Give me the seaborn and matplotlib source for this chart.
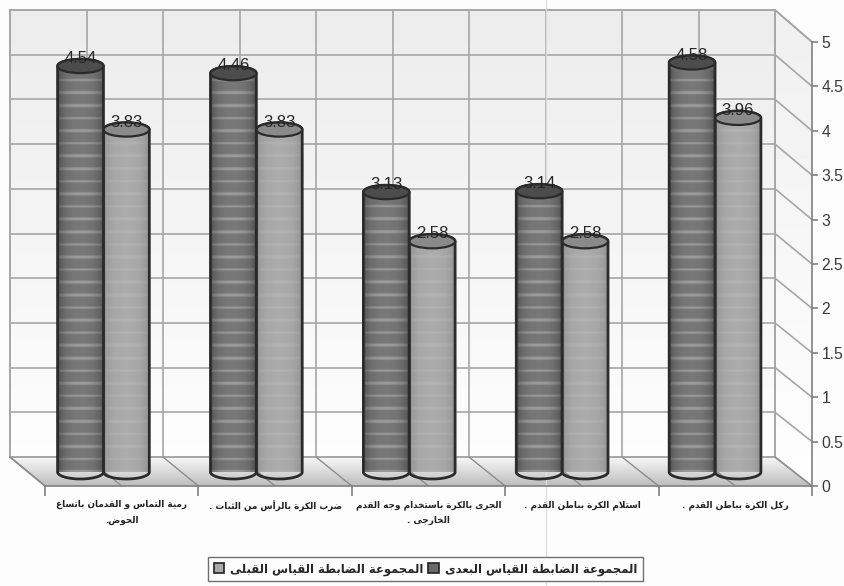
import numpy as np
import pandas as pd
import matplotlib
matplotlib.use('Agg')
import matplotlib.pyplot as plt
import seaborn as sns
from matplotlib.patches import Polygon, Ellipse

# Values
skills = ['رمية التماس و القدمان باتساع\nالحوض.',
          'ضرب الكرة بالرأس من الثبات .',
          'الجرى بالكرة باستخدام وجه القدم\nالخارجى .',
          'استلام الكرة بباطن القدم .',
          'ركل الكرة بباطن القدم .']
after_label = 'المجموعة الضابطة القياس البعدى'
before_label = 'المجموعة الضابطة القياس القبلى'
after_values = [4.54, 4.46, 3.13, 3.14, 4.58]
before_values = [3.83, 3.83, 2.58, 2.58, 3.96]
value_texts_after = ['4.54', '4.46', '3.13', '3.14', '4.58']
value_texts_before = ['3.83', '3.83', '2.58', '2.58', '3.96']
y_ticks = [0, 0.5, 1, 1.5, 2, 2.5, 3, 3.5, 4, 4.5, 5]
y_ticklabels = ['0', '0.5', '1', '1.5', '2', '2.5', '3', '3.5', '4', '4.5', '5']

W, H = 844, 586

# Arabic shaping by hand, matplotlib does not join letters
# letter: (isolated, final, initial, medial)
FORMS = {
    'ا': (0xFE8D, 0xFE8E, None, None), 'أ': (0xFE83, 0xFE84, None, None),
    'ب': (0xFE8F, 0xFE90, 0xFE91, 0xFE92), 'ة': (0xFE93, 0xFE94, None, None),
    'ت': (0xFE95, 0xFE96, 0xFE97, 0xFE98), 'ث': (0xFE99, 0xFE9A, 0xFE9B, 0xFE9C),
    'ج': (0xFE9D, 0xFE9E, 0xFE9F, 0xFEA0), 'ح': (0xFEA1, 0xFEA2, 0xFEA3, 0xFEA4),
    'خ': (0xFEA5, 0xFEA6, 0xFEA7, 0xFEA8), 'د': (0xFEA9, 0xFEAA, None, None),
    'ر': (0xFEAD, 0xFEAE, None, None), 'ز': (0xFEAF, 0xFEB0, None, None),
    'س': (0xFEB1, 0xFEB2, 0xFEB3, 0xFEB4), 'ض': (0xFEBD, 0xFEBE, 0xFEBF, 0xFEC0),
    'ط': (0xFEC1, 0xFEC2, 0xFEC3, 0xFEC4), 'ع': (0xFEC9, 0xFECA, 0xFECB, 0xFECC),
    'ق': (0xFED5, 0xFED6, 0xFED7, 0xFED8), 'ك': (0xFED9, 0xFEDA, 0xFEDB, 0xFEDC),
    'ل': (0xFEDD, 0xFEDE, 0xFEDF, 0xFEE0), 'م': (0xFEE1, 0xFEE2, 0xFEE3, 0xFEE4),
    'ن': (0xFEE5, 0xFEE6, 0xFEE7, 0xFEE8), 'ه': (0xFEE9, 0xFEEA, 0xFEEB, 0xFEEC),
    'و': (0xFEED, 0xFEEE, None, None), 'ى': (0xFEEF, 0xFEF0, None, None),
    'ي': (0xFEF1, 0xFEF2, 0xFEF3, 0xFEF4),
    'لا': (0xFEFB, 0xFEFC, None, None), 'لأ': (0xFEF7, 0xFEF8, None, None),
}


def shape(text):
    lines = []
    for line in text.split('\n'):
        # lam-alef is one glyph
        chars = []
        i = 0
        while i < len(line):
            if line[i:i + 2] in FORMS:
                chars.append(line[i:i + 2])
                i += 2
            else:
                chars.append(line[i])
                i += 1
        out = []
        for k, c in enumerate(chars):
            if c not in FORMS:
                out.append(c)
                continue
            prev = chars[k - 1] if k > 0 else None
            nxt = chars[k + 1] if k + 1 < len(chars) else None
            joins_prev = prev in FORMS and FORMS[prev][2] is not None
            joins_next = nxt in FORMS and FORMS[c][2] is not None
            iso, fin, ini, med = FORMS[c]
            if joins_prev and joins_next:
                code = med
            elif joins_prev:
                code = fin
            elif joins_next:
                code = ini
            else:
                code = iso
            out.append(chr(code))
        lines.append(''.join(reversed(out)))
    return '\n'.join(lines)


def px_rect(x0, y_top, x1, y_bottom):
    return [x0 / W, 1 - y_bottom / H, (x1 - x0) / W, (y_bottom - y_top) / H]


def cylinder_texture(base, edge, stripe_amount, ncols, nrows):
    u = np.linspace(-1, 1, ncols)
    round_part = np.sqrt(1 - 0.95 * u ** 2)
    shade = edge + (base - edge) * round_part ** 0.7
    img = np.tile(shade, (nrows, 1))
    rows = np.arange(nrows) + 7
    band = ((rows % 12.6) < 2.5).astype(float)
    img = img + band[:, None] * stripe_amount * (0.3 + round_part)
    return np.clip(img, 0, 1)


def gradient_poly(axes, points, top, bottom, y0, y1):
    # vertical grey gradient clipped to a polygon of the 3d box
    patch = Polygon(points, fc='none', ec='none')
    axes.add_patch(patch)
    grad = np.linspace(top, bottom, 64)[:, None]
    x = [p[0] for p in points]
    im = axes.imshow(grad, cmap='gray', vmin=0, vmax=1, aspect='auto',
                     extent=(min(x), max(x), y1, y0), zorder=0.5)
    im.set_clip_path(patch)


df = pd.DataFrame({
    'skill': skills * 2,
    'group': [after_label] * 5 + [before_label] * 5,
    'value': after_values + before_values,
})

sns.set_theme(style='white')
plt.rcParams['font.family'] = ['Liberation Sans', 'DejaVu Sans']

fig = plt.figure(figsize=(W / 100, H / 100), dpi=100, facecolor='#fdfdfd')

# Back wall, side wall and floor, in picture pixels
bg = fig.add_axes([0, 0, 1, 1])
bg.axis('off')
grid_c = '#a6a6a6'
gradient_poly(bg, [(10, 10), (775, 10), (775, 457), (10, 457)], 0.925, 0.99, 10, 457)
gradient_poly(bg, [(775, 10), (812, 42), (812, 486), (775, 457)], 0.94, 0.995, 10, 486)
gradient_poly(bg, [(10, 457), (775, 457), (812, 486), (45, 486)], 0.97, 0.74, 457, 486)
bg.plot([10, 775, 775, 10, 10], [10, 10, 457, 457, 10], color=grid_c, lw=1.2, zorder=1)
bg.plot([10, 45], [457, 486], color='#8c8c8c', lw=1.2, zorder=1)
bg.plot([775, 812], [10, 42], color=grid_c, lw=1.2, zorder=1)
for v in y_ticks:
    y_back = 457 - v * 89.4
    y_front = 486 - v * 88.8
    bg.plot([10, 775], [y_back, y_back], color=grid_c, lw=1.2, zorder=1)
    bg.plot([775, 812], [y_back, y_front], color=grid_c, lw=1.2, zorder=1)
for i in range(11):
    x_back = 10 + 76.5 * i
    x_front = 45 + 76.7 * i
    bg.plot([x_back, x_back], [10, 457], color=grid_c, lw=1.2, zorder=1)
    bg.plot([x_back, x_front], [457, 486], color='#8c8c8c', lw=1, zorder=1)
# fold of the scanned page
bg.plot([546, 546], [0, H], color='#dedede', lw=1, zorder=1)
bg.set_xlim(0, W)
bg.set_ylim(H, 0)

# Front axis with the real ticks and labels
axis_ax = fig.add_axes(px_rect(45, 42, 812, 486), facecolor='none')
axis_ax.set_xlim(-0.5, 4.5)
axis_ax.set_ylim(0, 5)
for s in ['top', 'left']:
    axis_ax.spines[s].set_visible(False)
for s in ['right', 'bottom']:
    axis_ax.spines[s].set_color('#808080')
    axis_ax.spines[s].set_linewidth(1.2)
axis_ax.yaxis.tick_right()
axis_ax.set_yticks(y_ticks)
axis_ax.set_yticklabels(y_ticklabels, fontsize=11.3, color='#3a3a3a')
axis_ax.tick_params(axis='y', right=True, length=4, width=1.2, color='#808080', pad=3)
axis_ax.set_xticks(np.arange(-0.5, 5, 1))
axis_ax.set_xticklabels([])
axis_ax.tick_params(axis='x', bottom=True, length=7, width=1.2, color='#808080')
axis_ax.set_xticks(np.arange(5), minor=True)
axis_ax.set_xticklabels([shape(s) for s in skills], minor=True, fontsize=6.4, fontweight='bold',
                        family='DejaVu Sans', color='#222222', linespacing=1.9)
axis_ax.tick_params(axis='x', which='minor', bottom=False, length=0, pad=10)

# Bars, on a plane half way between the back wall and the front axis
ax = fig.add_axes(px_rect(27, 25, 791.5, 472), facecolor='none')
sns.barplot(data=df, x='skill', y='value', hue='group',
            palette={after_label: '#6a6a6a', before_label: '#a9a9a9'},
            width=0.6, gap=0, dodge=True, legend=False, ax=ax)
ax.set_xlim(-0.5, 4.5)
ax.set_ylim(0, 5)
ax.axis('off')

cap = 7 / 89.4          # half height of the ellipses, value units
styles = [dict(base=0.47, edge=0.2, stripes=0.11, top='#4c4c4c', z=4),
          dict(base=0.67, edge=0.5, stripes=0.025, top='#8a8a8a', z=3)]
texts = [value_texts_after, value_texts_before]
for container, st, labels in zip(ax.containers, styles, texts):
    for bar, lab in zip(container, labels):
        x0, w, h = bar.get_x(), bar.get_width(), bar.get_height()
        xc = x0 + w / 2
        t = np.linspace(0, np.pi, 40)
        outline = np.vstack([
            np.column_stack([xc - w / 2 * np.cos(t), -cap * np.sin(t)]),
            np.column_stack([xc + w / 2 * np.cos(t), h + cap * np.sin(t)]),
        ])
        body = Polygon(outline, closed=True, fc='none', ec='#2b2b2b', lw=2, zorder=st['z'] + 0.2,
                       clip_on=False)
        ax.add_patch(body)
        nrows = int((h + 2 * cap) * 89.4)
        tex = cylinder_texture(st['base'], st['edge'], st['stripes'], 48, nrows)
        im = ax.imshow(tex, cmap='gray', vmin=0, vmax=1, origin='lower', aspect='auto',
                       extent=(x0, x0 + w, -cap, h + cap), zorder=st['z'], interpolation='bicubic')
        im.set_clip_path(body)
        ax.add_patch(Ellipse((xc, h), w, 2 * cap, fc=st['top'], ec='#2b2b2b', lw=1.6,
                             zorder=st['z'] + 0.3, clip_on=False))
        ax.text(xc, h + 1.05 * cap, lab, ha='center', va='center', fontsize=12, color='#262626',
                zorder=6, clip_on=False)
ax.set_xlim(-0.5, 4.5)
ax.set_ylim(0, 5)

# Legend: before group comes first when reading left to right
handles = [ax.containers[1][0], ax.containers[0][0]]
leg = fig.legend(handles, [shape(before_label), shape(after_label)], ncol=2,
                 loc='center', bbox_to_anchor=(425.5 / W, 1 - 569 / H), frameon=True, fancybox=False,
                 edgecolor='#707070', facecolor='#fdfdfd', framealpha=1,
                 prop={'family': 'DejaVu Sans', 'weight': 'bold', 'size': 8.4},
                 handlelength=0.9, handleheight=0.9, handletextpad=0.5, columnspacing=0.4,
                 borderpad=0.5)
for h in leg.legend_handles:
    h.set_edgecolor('#222222')
    h.set_linewidth(1.2)

fig.savefig('out.png', dpi=100)
